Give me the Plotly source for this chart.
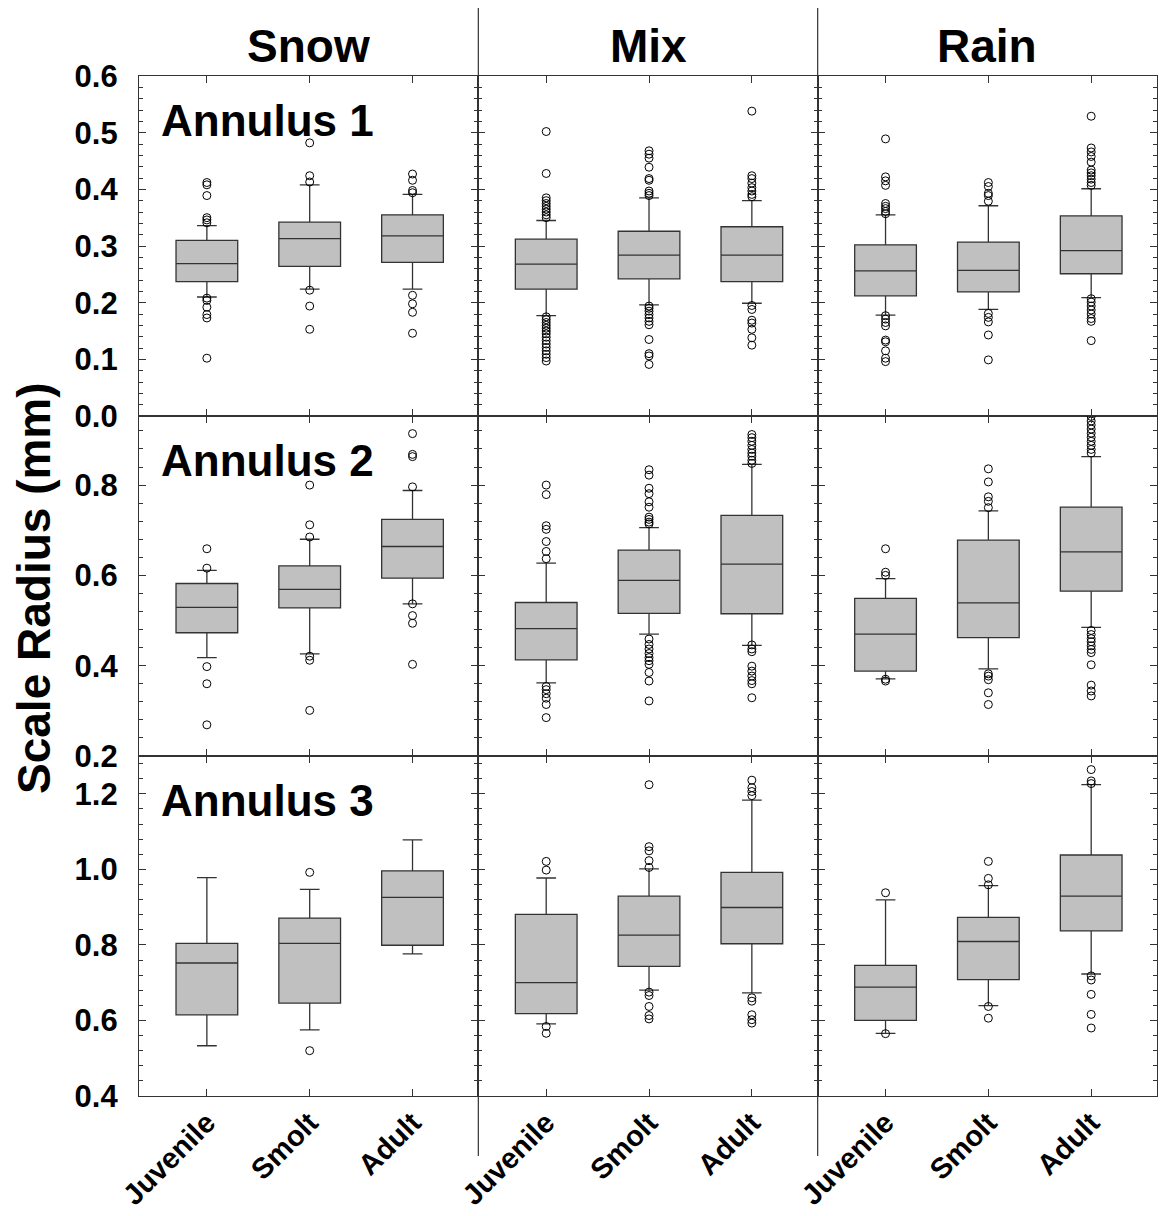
import plotly.graph_objects as go
from plotly.subplots import make_subplots

# ---------------- data ----------------
categories = ["Juvenile", "Smolt", "Adult"]
sources = ["Snow", "Mix", "Rain"]
annuli = ["Annulus 1", "Annulus 2", "Annulus 3"]

# each list: [Snow, Mix, Rain] -> [Juvenile, Smolt, Adult]
a1_q1 = [[0.237, 0.264, 0.271], [0.224, 0.242, 0.237], [0.212, 0.219, 0.251]]
a1_med = [[0.269, 0.313, 0.318], [0.268, 0.284, 0.284], [0.256, 0.257, 0.292]]
a1_q3 = [[0.310, 0.342, 0.355], [0.312, 0.326, 0.334], [0.302, 0.307, 0.353]]
a1_lo = [[0.210, 0.224, 0.224], [0.177, 0.196, 0.199], [0.178, 0.188, 0.209]]
a1_hi = [[0.336, 0.408, 0.391], [0.345, 0.385, 0.380], [0.355, 0.371, 0.401]]
a1_out = [
    [[0.412, 0.408, 0.389, 0.350, 0.346, 0.341, 0.208, 0.204, 0.192, 0.179, 0.173, 0.102],
     [0.482, 0.424, 0.413, 0.222, 0.194, 0.153],
     [0.427, 0.416, 0.398, 0.394, 0.213, 0.198, 0.183, 0.146]],
    [[0.502, 0.428, 0.385, 0.380, 0.375, 0.370, 0.365, 0.360, 0.355, 0.350,
      0.175, 0.170, 0.165, 0.160, 0.155, 0.150, 0.145, 0.139, 0.133, 0.127,
      0.121, 0.115, 0.109, 0.103, 0.097],
     [0.468, 0.462, 0.455, 0.439, 0.419, 0.416, 0.397, 0.393, 0.389,
      0.194, 0.190, 0.185, 0.179, 0.173, 0.167, 0.161, 0.135, 0.110, 0.106, 0.091],
     [0.538, 0.424, 0.419, 0.411, 0.403, 0.397, 0.391, 0.387,
      0.195, 0.188, 0.169, 0.164, 0.153, 0.138, 0.125]],
    [[0.489, 0.422, 0.415, 0.407, 0.375, 0.370, 0.366, 0.361, 0.357,
      0.177, 0.171, 0.165, 0.159, 0.134, 0.131, 0.115, 0.102, 0.096],
     [0.412, 0.405, 0.393, 0.389, 0.379, 0.181, 0.174, 0.166, 0.143, 0.099],
     [0.529, 0.473, 0.466, 0.458, 0.448, 0.434, 0.429, 0.424, 0.418, 0.412, 0.407,
      0.207, 0.201, 0.194, 0.187, 0.180, 0.172, 0.167, 0.133]],
]

a2_q1 = [[0.473, 0.528, 0.594], [0.413, 0.516, 0.515], [0.388, 0.462, 0.565]]
a2_med = [[0.529, 0.569, 0.664], [0.482, 0.589, 0.625], [0.470, 0.539, 0.652]]
a2_q3 = [[0.582, 0.621, 0.724], [0.540, 0.656, 0.733], [0.549, 0.678, 0.751]]
a2_lo = [[0.418, 0.426, 0.537], [0.362, 0.470, 0.445], [0.371, 0.393, 0.485]]
a2_hi = [[0.611, 0.680, 0.788], [0.627, 0.706, 0.846], [0.593, 0.743, 0.863]]
a2_out = [
    [[0.659, 0.616, 0.398, 0.360, 0.269],
     [0.800, 0.712, 0.685, 0.421, 0.412, 0.301],
     [0.914, 0.868, 0.863, 0.796, 0.537, 0.511, 0.494, 0.403]],
    [[0.800, 0.779, 0.710, 0.702, 0.675, 0.653, 0.637, 0.354, 0.347, 0.338, 0.328, 0.314, 0.285],
     [0.834, 0.822, 0.793, 0.781, 0.763, 0.751, 0.729, 0.724, 0.718, 0.714,
      0.459, 0.447, 0.437, 0.427, 0.418, 0.411, 0.403, 0.385, 0.366, 0.322],
     [0.912, 0.905, 0.897, 0.888, 0.879, 0.871, 0.864, 0.855, 0.848,
      0.446, 0.437, 0.431, 0.399, 0.388, 0.377, 0.367, 0.360, 0.329]],
    [[0.659, 0.607, 0.600, 0.370, 0.366],
     [0.836, 0.807, 0.774, 0.764, 0.750, 0.382, 0.377, 0.369, 0.340, 0.314],
     [0.952, 0.942, 0.933, 0.924, 0.915, 0.906, 0.897, 0.888, 0.879, 0.871,
      0.478, 0.469, 0.460, 0.453, 0.444, 0.436, 0.429, 0.402, 0.357, 0.344, 0.333]],
]

a3_q1 = [[0.615, 0.646, 0.799], [0.618, 0.743, 0.803], [0.600, 0.708, 0.837]]
a3_med = [[0.752, 0.804, 0.926], [0.700, 0.826, 0.899], [0.688, 0.809, 0.929]]
a3_q3 = [[0.804, 0.871, 0.996], [0.881, 0.929, 0.992], [0.746, 0.873, 1.038]]
a3_lo = [[0.533, 0.575, 0.776], [0.591, 0.680, 0.673], [0.566, 0.639, 0.723]]
a3_hi = [[0.978, 0.947, 1.078], [0.977, 1.001, 1.183], [0.919, 0.957, 1.224]]
a3_out = [
    [[], [0.992, 0.520], []],
    [[1.021, 0.998, 0.584, 0.566],
     [1.224, 1.060, 1.049, 1.023, 1.005, 0.675, 0.666, 0.637, 0.613, 0.604],
     [1.236, 1.216, 1.206, 1.195, 0.660, 0.651, 0.615, 0.602, 0.593]],
    [[0.938, 0.565],
     [1.021, 0.976, 0.959, 0.637, 0.606],
     [1.264, 1.234, 1.227, 0.718, 0.707, 0.669, 0.616, 0.580]],
]

y_ranges = [[0.0, 0.6], [0.2, 0.953], [0.4, 1.3]]
y_tick0 = [0.0, 0.2, 0.4]
y_dtick = [0.1, 0.2, 0.2]
y_minor = [0.02, 0.04, 0.04]

# ---------------- figure ----------------
FONT = "Liberation Sans, Arial, sans-serif"
LINE = "#333333"

W, H = 1161, 1216
ML, MR, MT, MB = 139, 4, 76, 120

fig = make_subplots(rows=3, cols=3, horizontal_spacing=0, vertical_spacing=0)

stats = [
    (a1_q1, a1_med, a1_q3, a1_lo, a1_hi, a1_out),
    (a2_q1, a2_med, a2_q3, a2_lo, a2_hi, a2_out),
    (a3_q1, a3_med, a3_q3, a3_lo, a3_hi, a3_out),
]

for r, (q1, med, q3, lo, hi, out) in enumerate(stats):
    for c in range(3):
        fig.add_trace(go.Box(
            x=categories, q1=q1[c], median=med[c], q3=q3[c],
            lowerfence=lo[c], upperfence=hi[c],
            fillcolor="#c0c0c0", line=dict(color=LINE, width=1.3),
            width=0.6, whiskerwidth=0.32, boxpoints=False, showlegend=False,
            hoverinfo="skip"),
            row=r + 1, col=c + 1)
        xs, ys = [], []
        for k, cat in enumerate(categories):
            xs += [cat] * len(out[c][k])
            ys += out[c][k]
        fig.add_trace(go.Scatter(
            x=xs, y=ys, mode="markers",
            marker=dict(symbol="circle-open", size=8, color="black",
                        line=dict(width=1, color="black")),
            showlegend=False, hoverinfo="skip"),
            row=r + 1, col=c + 1)

for r in range(3):
    for c in range(3):
        fig.update_xaxes(
            type="category", categoryorder="array", categoryarray=categories,
            range=[-0.66, 2.64], showline=True, linecolor=LINE, linewidth=1.2,
            mirror="allticks", ticks="inside", ticklen=7, tickcolor=LINE,
            showgrid=False, zeroline=False, automargin=False,
            showticklabels=(r == 2), tickangle=-45, ticklabelstandoff=-3,
            tickfont=dict(family=FONT, size=29, color="black", weight="bold"),
            row=r + 1, col=c + 1)
        fig.update_yaxes(
            range=y_ranges[r], tickmode="linear", tick0=y_tick0[r], dtick=y_dtick[r],
            tickformat=".1f", showline=True, linecolor=LINE, linewidth=1.2,
            mirror="allticks", ticks="inside", ticklen=7, tickcolor=LINE,
            minor=dict(tickmode="linear", tick0=y_tick0[r], dtick=y_minor[r],
                       ticks="inside", ticklen=4, tickcolor=LINE, showgrid=False),
            showgrid=False, zeroline=False, automargin=False,
            showticklabels=(c == 0), ticklabelstandoff=14,
            tickfont=dict(family=FONT, size=31, color="black", weight="bold"),
            row=r + 1, col=c + 1)

plot_w = W - ML - MR
plot_h = H - MT - MB


def py(pix):
    # page pixel -> paper y
    return (H - MB - pix) / plot_h


def px(pix):
    # page pixel -> paper x
    return (pix - ML) / plot_w


annotations = []
for c, s in enumerate(sources):
    annotations.append(dict(
        text="<b>%s</b>" % s, x=(c + 0.5) / 3, y=py(46), xref="paper", yref="paper",
        xanchor="center", yanchor="middle", showarrow=False,
        font=dict(family=FONT, size=46, color="black")))

for r, a in enumerate(annuli):
    axn = "" if r == 0 else str(r * 3 + 1)
    annotations.append(dict(
        text="<b>%s</b>" % a, x=0.06, y=0.87,
        xref="x%s domain" % axn, yref="y%s domain" % axn,
        xanchor="left", yanchor="middle", showarrow=False,
        font=dict(family=FONT, size=44, color="black")))

annotations.append(dict(
    text="<b>Scale Radius (mm)</b>", x=px(34), y=py(588), xref="paper", yref="paper",
    xanchor="center", yanchor="middle", textangle=-90, showarrow=False,
    font=dict(family=FONT, size=46, color="black")))

shapes = []
for xv in [1 / 3, 2 / 3]:
    shapes.append(dict(type="line", xref="paper", yref="paper",
                       x0=xv, x1=xv, y0=py(8), y1=py(1156),
                       line=dict(color=LINE, width=1.2)))

fig.update_layout(
    width=W, height=H,
    margin=dict(l=ML, r=MR, t=MT, b=MB, autoexpand=False),
    paper_bgcolor="white", plot_bgcolor="white",
    annotations=annotations, shapes=shapes,
    font=dict(family=FONT, color="black"),
    showlegend=False,
)

fig.write_html("out.html",
               config={"displayModeBar": False},
               post_script="document.body.style.margin='0';document.body.style.overflow='hidden';")
